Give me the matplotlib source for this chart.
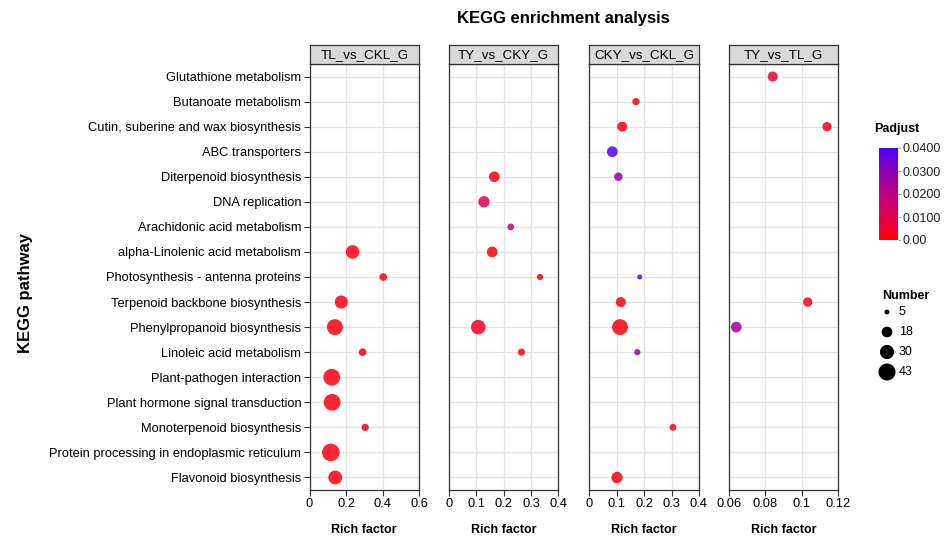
import matplotlib.pyplot as plt
import matplotlib as mpl
import numpy as np
from matplotlib.colors import LinearSegmentedColormap, Normalize

plt.rcParams['font.family'] = ['Liberation Sans', 'DejaVu Sans']

# pathways, top to bottom
pathways = [
    "Glutathione metabolism",
    "Butanoate metabolism",
    "Cutin, suberine and wax biosynthesis",
    "ABC transporters",
    "Diterpenoid biosynthesis",
    "DNA replication",
    "Arachidonic acid metabolism",
    "alpha-Linolenic acid metabolism",
    "Photosynthesis - antenna proteins",
    "Terpenoid backbone biosynthesis",
    "Phenylpropanoid biosynthesis",
    "Linoleic acid metabolism",
    "Plant-pathogen interaction",
    "Plant hormone signal transduction",
    "Monoterpenoid biosynthesis",
    "Protein processing in endoplasmic reticulum",
    "Flavonoid biosynthesis",
]

# TL_vs_CKL_G
tl_ckl_path = ["alpha-Linolenic acid metabolism", "Photosynthesis - antenna proteins",
               "Terpenoid backbone biosynthesis", "Phenylpropanoid biosynthesis",
               "Linoleic acid metabolism", "Plant-pathogen interaction",
               "Plant hormone signal transduction", "Monoterpenoid biosynthesis",
               "Protein processing in endoplasmic reticulum", "Flavonoid biosynthesis"]
tl_ckl_rich = [0.236, 0.404, 0.174, 0.139, 0.291, 0.122, 0.124, 0.305, 0.117, 0.141]
tl_ckl_count = [28, 10, 26, 38, 10, 42, 42, 9, 46, 29]
tl_ckl_padj = [0.002, 0.002, 0.002, 0.002, 0.003, 0.002, 0.002, 0.003, 0.002, 0.002]

# TY_vs_CKY_G
ty_cky_path = ["Diterpenoid biosynthesis", "DNA replication", "Arachidonic acid metabolism",
               "alpha-Linolenic acid metabolism", "Photosynthesis - antenna proteins",
               "Phenylpropanoid biosynthesis", "Linoleic acid metabolism"]
ty_cky_rich = [0.166, 0.128, 0.226, 0.158, 0.333, 0.107, 0.265]
ty_cky_count = [18, 20, 8, 18, 7, 32, 9]
ty_cky_padj = [0.002, 0.012, 0.016, 0.002, 0.002, 0.004, 0.002]

# CKY_vs_CKL_G
cky_ckl_path = ["Butanoate metabolism", "Cutin, suberine and wax biosynthesis",
                "ABC transporters", "Diterpenoid biosynthesis",
                "Photosynthesis - antenna proteins", "Terpenoid backbone biosynthesis",
                "Phenylpropanoid biosynthesis", "Linoleic acid metabolism",
                "Monoterpenoid biosynthesis", "Flavonoid biosynthesis"]
cky_ckl_rich = [0.170, 0.120, 0.084, 0.106, 0.184, 0.115, 0.112, 0.175, 0.305, 0.101]
cky_ckl_count = [9, 16, 18, 12, 5, 16, 38, 7, 8, 20]
cky_ckl_padj = [0.002, 0.003, 0.038, 0.027, 0.035, 0.002, 0.002, 0.027, 0.002, 0.002]

# TY_vs_TL_G
ty_tl_path = ["Glutathione metabolism", "Cutin, suberine and wax biosynthesis",
              "Terpenoid backbone biosynthesis", "Phenylpropanoid biosynthesis"]
ty_tl_rich = [0.084, 0.1138, 0.1032, 0.064]
ty_tl_count = [16, 14, 14, 18]
ty_tl_padj = [0.006, 0.002, 0.002, 0.026]

panels = [
    ("TL_vs_CKL_G", tl_ckl_path, tl_ckl_rich, tl_ckl_count, tl_ckl_padj, (0, 0.6), [0, 0.2, 0.4, 0.6], ["0", "0.2", "0.4", "0.6"]),
    ("TY_vs_CKY_G", ty_cky_path, ty_cky_rich, ty_cky_count, ty_cky_padj, (0, 0.4), [0, 0.1, 0.2, 0.3, 0.4], ["0", "0.1", "0.2", "0.3", "0.4"]),
    ("CKY_vs_CKL_G", cky_ckl_path, cky_ckl_rich, cky_ckl_count, cky_ckl_padj, (0, 0.4), [0, 0.1, 0.2, 0.3, 0.4], ["0", "0.1", "0.2", "0.3", "0.4"]),
    ("TY_vs_TL_G", ty_tl_path, ty_tl_rich, ty_tl_count, ty_tl_padj, (0.06, 0.12), [0.06, 0.08, 0.1, 0.12], ["0.06", "0.08", "0.1", "0.12"]),
]

size_breaks = [5, 18, 30, 43]
padj_ticks = [0, 0.01, 0.02, 0.03, 0.04]
padj_labels = ["0.00", "0.0100", "0.0200", "0.0300", "0.0400"]

cmap = LinearSegmentedColormap.from_list(
    "padj", ["#FF0000", "#E1004F", "#BC0081", "#8E00B8", "#4A00FF"])
norm = Normalize(0, 0.04)


def msize(n):
    # area grows linearly with gene count (diameter in px -> points^2)
    d = np.sqrt(25 + 6.95 * (np.asarray(n) - 5))
    return (d * 0.72) ** 2


W, H = 945, 538
fig = plt.figure(figsize=(W / 100, H / 100), dpi=100)


def fx(px):
    return px / W


def fy(py):
    return 1 - py / H


ypos = {p: i for i, p in enumerate(pathways)}
panel_x = [(309.5, 419), (449, 558.3), (589.3, 699), (729, 838.3)]
top, bottom = 64, 490
edge = "#333333"

for k, (name, path, rich, cnt, padj, xlim, xt, xtl) in enumerate(panels):
    x0, x1 = panel_x[k]
    ax = fig.add_axes([fx(x0), fy(bottom), fx(x1 - x0), (bottom - top) / H])
    ax.set_xlim(*xlim)
    ax.set_ylim(len(pathways) - 0.5, -0.5)
    ax.set_yticks(range(len(pathways)))
    ax.set_xticks(xt)
    ax.set_xticklabels(xtl, fontsize=9.3)
    ax.tick_params(axis='both', colors=edge, labelcolor='black', width=0.8, length=4, pad=2)
    if k == 0:
        ax.set_yticklabels(pathways, fontsize=9.3)
    else:
        ax.set_yticklabels([])
        ax.tick_params(axis='y', length=0)
    ax.grid(True, color="#E3E3E3", linewidth=0.9)
    ax.set_axisbelow(True)
    for s in ax.spines.values():
        s.set_color(edge)
        s.set_linewidth(0.9)
    y = [ypos[p] for p in path]
    ax.scatter(rich, y, s=msize(cnt), c=cmap(norm(padj)), alpha=0.85,
               linewidths=0, zorder=3, clip_on=False)
    fig.text(fx((x0 + x1) / 2), fy(530), "Rich factor", ha='center', va='center',
             fontsize=9, fontweight='bold')

    # facet strip
    sx = fig.add_axes([fx(x0), fy(top), fx(x1 - x0), 19 / H])
    sx.set_facecolor("#D9D9D9")
    sx.set_xticks([])
    sx.set_yticks([])
    for s in sx.spines.values():
        s.set_color(edge)
        s.set_linewidth(0.9)
    sx.text(0.5, 0.45, name, ha='center', va='center', fontsize=9.6, transform=sx.transAxes)

fig.text(fx(563), fy(19), "KEGG enrichment analysis", ha='center', va='center',
         fontsize=12, fontweight='bold')
fig.text(fx(26), fy(293), "KEGG pathway", ha='center', va='center', rotation=90,
         fontsize=12, fontweight='bold')

# Padjust colorbar
cax = fig.add_axes([fx(879), fy(240), fx(19), 92 / H])
cb = mpl.colorbar.ColorbarBase(cax, cmap=cmap, norm=norm, orientation='vertical')
cb.set_ticks(padj_ticks)
cb.set_ticklabels(padj_labels)
cb.outline.set_visible(False)
cax.tick_params(length=2, width=0.6, colors="#999999", labelcolor='#222222', labelsize=9, pad=1.5)
fig.text(fx(874), fy(129), "Padjust", ha='left', va='center', fontsize=9, fontweight='bold')

# Number size legend
fig.text(fx(882), fy(296), "Number", ha='left', va='center', fontsize=9, fontweight='bold')
lax = fig.add_axes([fx(870), fy(390), fx(60), 88 / H])
lax.set_xlim(0, 60)
lax.set_ylim(88, 0)
lax.axis('off')
rows = [10 + 20 * i for i in range(len(size_breaks))]
lax.scatter([17] * len(size_breaks), rows, s=msize(size_breaks),
            c='black', linewidths=0, clip_on=False)
for r, n in zip(rows, size_breaks):
    lax.text(29, r, str(n), ha='left', va='center', fontsize=9)

fig.savefig("out.png", dpi=100)
